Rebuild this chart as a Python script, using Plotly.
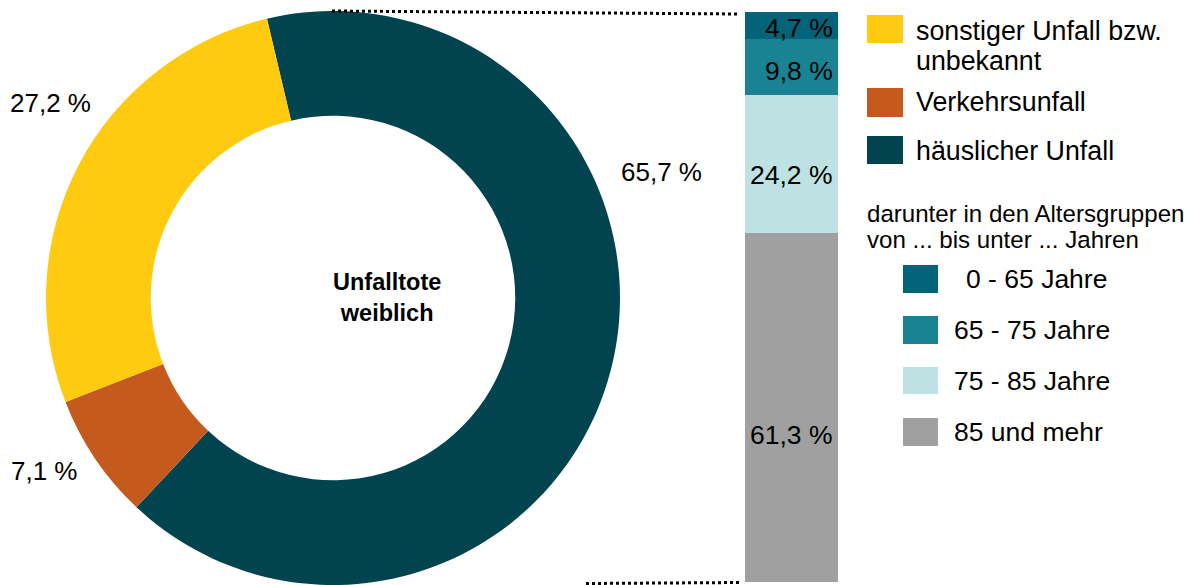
import plotly.graph_objects as go

W, H = 1195, 585

# ---- data ----
unfall_labels = ["häuslicher Unfall", "Verkehrsunfall", "sonstiger Unfall bzw. unbekannt"]
unfall_values = [65.7, 7.1, 27.2]
unfall_colors = ["#01434F", "#C55A1E", "#FFCB10"]

alter_labels = ["0 - 65 Jahre", "65 - 75 Jahre", "75 - 85 Jahre", "85 und mehr"]
alter_values = [4.7, 9.8, 24.2, 61.3]
alter_colors = ["#036378", "#1A8393", "#BEE1E3", "#A0A0A0"]

center_title = "Unfalltote<br>weiblich"
alter_note = ["darunter in den Altersgruppen", "von ... bis unter ... Jahren"]

FONT = "Liberation Sans, Arial, sans-serif"


def px(x):
    return x / W


def py(y):
    return (H - y) / H


def fmt(v):
    return f"{v:.1f} %".replace(".", ",")


fig = go.Figure()

# donut
cx, cy, r = 333, 298, 287
fig.add_trace(go.Pie(
    labels=unfall_labels, values=unfall_values,
    marker=dict(colors=unfall_colors, line=dict(width=0)),
    hole=0.635, sort=False, direction="clockwise", rotation=-13.3,
    textinfo="none", showlegend=False,
    domain=dict(x=[px(cx - r), px(cx + r)], y=[py(cy + r), py(cy - r)]),
))

# stacked bar (bottom to top: 85+, 75-85, 65-75, 0-65)
for lab, val, col in list(zip(alter_labels, alter_values, alter_colors))[::-1]:
    fig.add_trace(go.Bar(
        x=[0], y=[val], name=lab, marker=dict(color=col, line=dict(width=0)),
        width=1, showlegend=False, xaxis="x2", yaxis="y2", hoverinfo="name+y",
    ))

bar_left, bar_right, bar_top, bar_bot = 745, 838, 12, 582
fig.update_layout(
    width=W, height=H, margin=dict(l=0, r=0, t=0, b=0),
    paper_bgcolor="white", plot_bgcolor="white", barmode="stack",
    font=dict(family=FONT, color="#000000", size=26),
    xaxis2=dict(domain=[px(bar_left), px(bar_right)], range=[-0.5, 0.5], visible=False, fixedrange=True),
    yaxis2=dict(domain=[py(bar_bot), py(bar_top)], range=[0, 100], visible=False, fixedrange=True, anchor="x2"),
)

ann = []
# center text
ann.append(dict(x=px(331), y=py(297), xref="paper", yref="paper", text=center_title,
                showarrow=False, font=dict(size=23.5, family=FONT, weight="bold"), align="center"))

# donut labels (same order as unfall_values)
donut_label_pos = [(661, 172, "center"), (9, 471, "left"), (8, 103, "left")]
for v, (lx, ly, a) in zip(unfall_values, donut_label_pos):
    ann.append(dict(x=px(lx), y=py(ly), xref="paper", yref="paper", text=fmt(v),
                    showarrow=False, xanchor=a, yanchor="middle", font=dict(size=26)))

# bar labels
base = 0
stack = list(zip(alter_labels, alter_values))[::-1]
for lab, v in stack:
    ann.append(dict(x=0.5, y=base + 0.42 * v, xref="x2", yref="y2", text=fmt(v), showarrow=False,
                    xanchor="right", yanchor="middle", xshift=-3, font=dict(size=26.5)))
    base += v

shapes = []
# connector dotted lines
shapes.append(dict(type="line", xref="paper", yref="paper", x0=px(332), y0=py(11), x1=px(740), y1=py(14),
                   line=dict(color="black", width=3, dash="dot")))
shapes.append(dict(type="line", xref="paper", yref="paper", x0=px(586), y0=py(583.5), x1=px(742), y1=py(582.5),
                   line=dict(color="black", width=3, dash="dot")))

# legend 1 (top): order sonstiger, Verkehr, häuslich
leg1_order = [2, 1, 0]
leg1_sq_y = [(15, 43), (88, 117), (136, 164)]
for i, (y0, y1) in zip(leg1_order, leg1_sq_y):
    shapes.append(dict(type="rect", xref="paper", yref="paper", x0=px(867), x1=px(903), y0=py(y1), y1=py(y0),
                       fillcolor=unfall_colors[i], line=dict(width=0)))
leg1_text = ["sonstiger Unfall bzw.", "unbekannt", unfall_labels[1], unfall_labels[0]]
leg1_text_y = [31, 61, 102, 151]
for t, ty in zip(leg1_text, leg1_text_y):
    ann.append(dict(x=px(914), y=py(ty), xref="paper", yref="paper", text=t, showarrow=False,
                    xanchor="left", yanchor="middle", font=dict(size=26.8)))

# note
for t, ty in zip(alter_note, [213, 239]):
    ann.append(dict(x=px(865), y=py(ty), xref="paper", yref="paper", text=t, showarrow=False,
                    xanchor="left", yanchor="middle", font=dict(size=24.1)))

# legend 2 (ages)
leg2_sq_y = [(265, 293), (316, 344), (367, 394), (418, 446)]
leg2_text_x = [964, 952, 952, 952]
for lab, col, (y0, y1), tx in zip(alter_labels, alter_colors, leg2_sq_y, leg2_text_x):
    shapes.append(dict(type="rect", xref="paper", yref="paper", x0=px(903), x1=px(938), y0=py(y1), y1=py(y0),
                       fillcolor=col, line=dict(width=0)))
    ann.append(dict(x=px(tx), y=py((y0 + y1) / 2), xref="paper", yref="paper", text=lab, showarrow=False,
                    xanchor="left", yanchor="middle", font=dict(size=26.5)))

fig.update_layout(annotations=ann, shapes=shapes)
fig.write_html("out.html", config={"displayModeBar": False},
               post_script="document.body.style.margin='0';document.body.style.padding='0';")
